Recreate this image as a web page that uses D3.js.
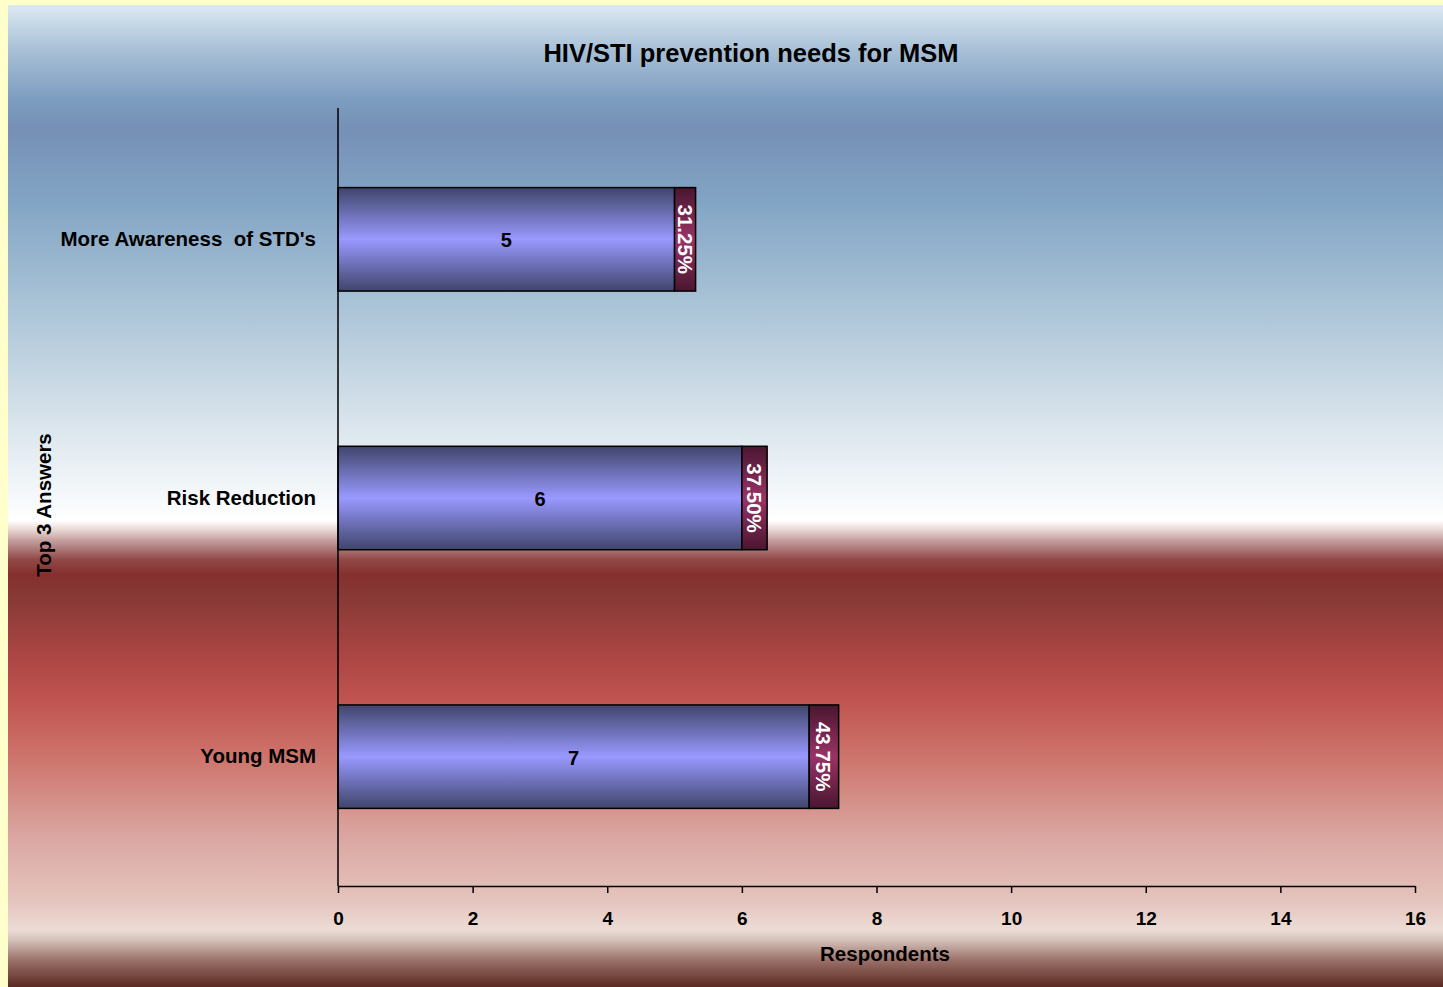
<!DOCTYPE html>
<html>
<head>
<meta charset="utf-8">
<script src="https://cdn.jsdelivr.net/npm/d3@7/dist/d3.min.js"></script>
<style>
  html, body { margin: 0; padding: 0; background: #ffffcc; }
  svg { display: block; font-family: "Liberation Sans", Arial, sans-serif; }
</style>
</head>
<body>
<svg id="chart" width="1443" height="987"></svg>
<script>
// Survey answers (top 3) and respondent counts
const categories = ["More Awareness  of STD's", "Risk Reduction", "Young MSM"];
const respondents = [5, 6, 7];
const shares = [0.3125, 0.375, 0.4375];   // share of all respondents, stacked after the count
const shareLabels = ["31.25%", "37.50%", "43.75%"];
const xTicks = [0, 2, 4, 6, 8, 10, 12, 14, 16];

(function draw() {
const W = 1443, H = 987;
const svg = d3.select("#chart");
const defs = svg.append("defs");

// Background gradient: sky blue on top, fading to white, then deep red to pale pink
const bgStops = [
  [0.000, "#dce9f3"], [0.046, "#a8c0d6"], [0.097, "#7c9cc0"], [0.127, "#7690b6"],
  [0.199, "#82a4c4"], [0.301, "#a8c2d6"], [0.382, "#c8d8e4"], [0.453, "#e4ecf2"],
  [0.514, "#fafcfd"], [0.525, "#ffffff"], [0.535, "#e8d4d0"], [0.545, "#c4a0a0"],
  [0.565, "#904846"], [0.580, "#85302e"], [0.606, "#893a36"], [0.657, "#a84442"],
  [0.708, "#c05450"], [0.759, "#cc7068"], [0.810, "#d49088"], [0.851, "#dca8a4"],
  [0.912, "#e4c4bc"], [0.942, "#ecdcd6"], [0.953, "#d2beb6"], [0.973, "#9a7068"],
  [1.000, "#5a2a22"]
];
const bg = defs.append("linearGradient").attr("id", "bgGrad")
  .attr("x1", 0).attr("y1", 0).attr("x2", 0).attr("y2", 1);
bgStops.forEach(([o, c]) => bg.append("stop").attr("offset", o).attr("stop-color", c));

const countGrad = defs.append("linearGradient").attr("id", "countGrad")
  .attr("x1", 0).attr("y1", 0).attr("x2", 0).attr("y2", 1);
[[0, "#40446c"], [0.15, "#5a5e96"], [0.5, "#9999ff"], [0.85, "#5a5e96"], [1, "#40446c"]]
  .forEach(([o, c]) => countGrad.append("stop").attr("offset", o).attr("stop-color", c));

const shareGrad = defs.append("linearGradient").attr("id", "shareGrad")
  .attr("x1", 0).attr("y1", 0).attr("x2", 0).attr("y2", 1);
[[0, "#4a1630"], [0.5, "#993366"], [1, "#4a1630"]]
  .forEach(([o, c]) => shareGrad.append("stop").attr("offset", o).attr("stop-color", c));

svg.append("rect").attr("x", 8).attr("y", 5).attr("width", W - 8).attr("height", H - 5)
  .attr("fill", "url(#bgGrad)");

// Plot area
const plotLeft = 338, plotRight = 1415, plotTop = 110, plotBottom = 886;
const x = d3.scaleLinear().domain([0, 16]).range([plotLeft, plotRight]);
const y = d3.scaleBand().domain(categories).range([plotTop, plotBottom])
  .paddingInner(0.6).paddingOuter(0.3);

// Title
svg.append("text").attr("x", 751).attr("y", 62).attr("text-anchor", "middle")
  .attr("font-size", 25.5).attr("font-weight", "bold").attr("fill", "#000")
  .text("HIV/STI prevention needs for MSM");

// Bars
const rows = categories.map((c, i) => ({ c, n: respondents[i], s: shares[i], lbl: shareLabels[i] }));
const g = svg.append("g");
rows.forEach(d => {
  const y0 = y(d.c), bh = y.bandwidth();
  g.append("rect").attr("x", x(0)).attr("y", y0)
    .attr("width", x(d.n) - x(0)).attr("height", bh)
    .attr("fill", "url(#countGrad)").attr("stroke", "#000").attr("stroke-width", 1.5);
  g.append("rect").attr("x", x(d.n)).attr("y", y0)
    .attr("width", x(d.n + d.s) - x(d.n)).attr("height", bh)
    .attr("fill", "url(#shareGrad)").attr("stroke", "#000").attr("stroke-width", 1.5);
  g.append("text").attr("x", (x(0) + x(d.n)) / 2).attr("y", y0 + bh / 2 + 8)
    .attr("text-anchor", "middle").attr("font-size", 20).attr("font-weight", "bold")
    .attr("fill", "#000").text(d.n);
  const cx = (x(d.n) + x(d.n + d.s)) / 2, cy = y0 + bh / 2;
  g.append("text").attr("transform", `translate(${cx - 7.5},${cy}) rotate(90)`)
    .attr("text-anchor", "middle").attr("font-size", 20.5).attr("font-weight", "bold")
    .attr("fill", "#fff").text(d.lbl);
});

// X axis
const xAxis = d3.axisBottom(x).tickValues(xTicks).tickSize(7).tickSizeOuter(0).tickPadding(19);
const gx = svg.append("g").attr("transform", `translate(0,${plotBottom})`).call(xAxis);
gx.select(".domain").attr("stroke", "#000").attr("stroke-width", 1.5);
gx.selectAll(".tick line").attr("stroke", "#000").attr("stroke-width", 1.5);
gx.selectAll(".tick text").attr("font-size", 19).attr("font-weight", "bold")
  .attr("fill", "#000").attr("font-family", "Liberation Sans, Arial, sans-serif");

// Y axis (line only, category labels)
const yAxis = d3.axisLeft(y).tickSize(0).tickPadding(22);
const gy = svg.append("g").attr("transform", `translate(${plotLeft},0)`).call(yAxis);
gy.select(".domain").attr("stroke", "#000").attr("stroke-width", 1.5)
  .attr("d", `M0,${108}V${plotBottom}`);
gy.selectAll(".tick text").attr("font-size", 20.5).attr("font-weight", "bold")
  .attr("fill", "#000").attr("font-family", "Liberation Sans, Arial, sans-serif")
  .style("white-space", "pre");

// Axis titles
svg.append("text").attr("x", 885).attr("y", 961).attr("text-anchor", "middle")
  .attr("font-size", 20.5).attr("font-weight", "bold").attr("fill", "#000")
  .text("Respondents");
svg.append("text").attr("transform", "translate(51,505) rotate(-90)")
  .attr("text-anchor", "middle").attr("font-size", 20.5).attr("font-weight", "bold")
  .attr("fill", "#000").text("Top 3 Answers");
})();
</script>
</body>
</html>
